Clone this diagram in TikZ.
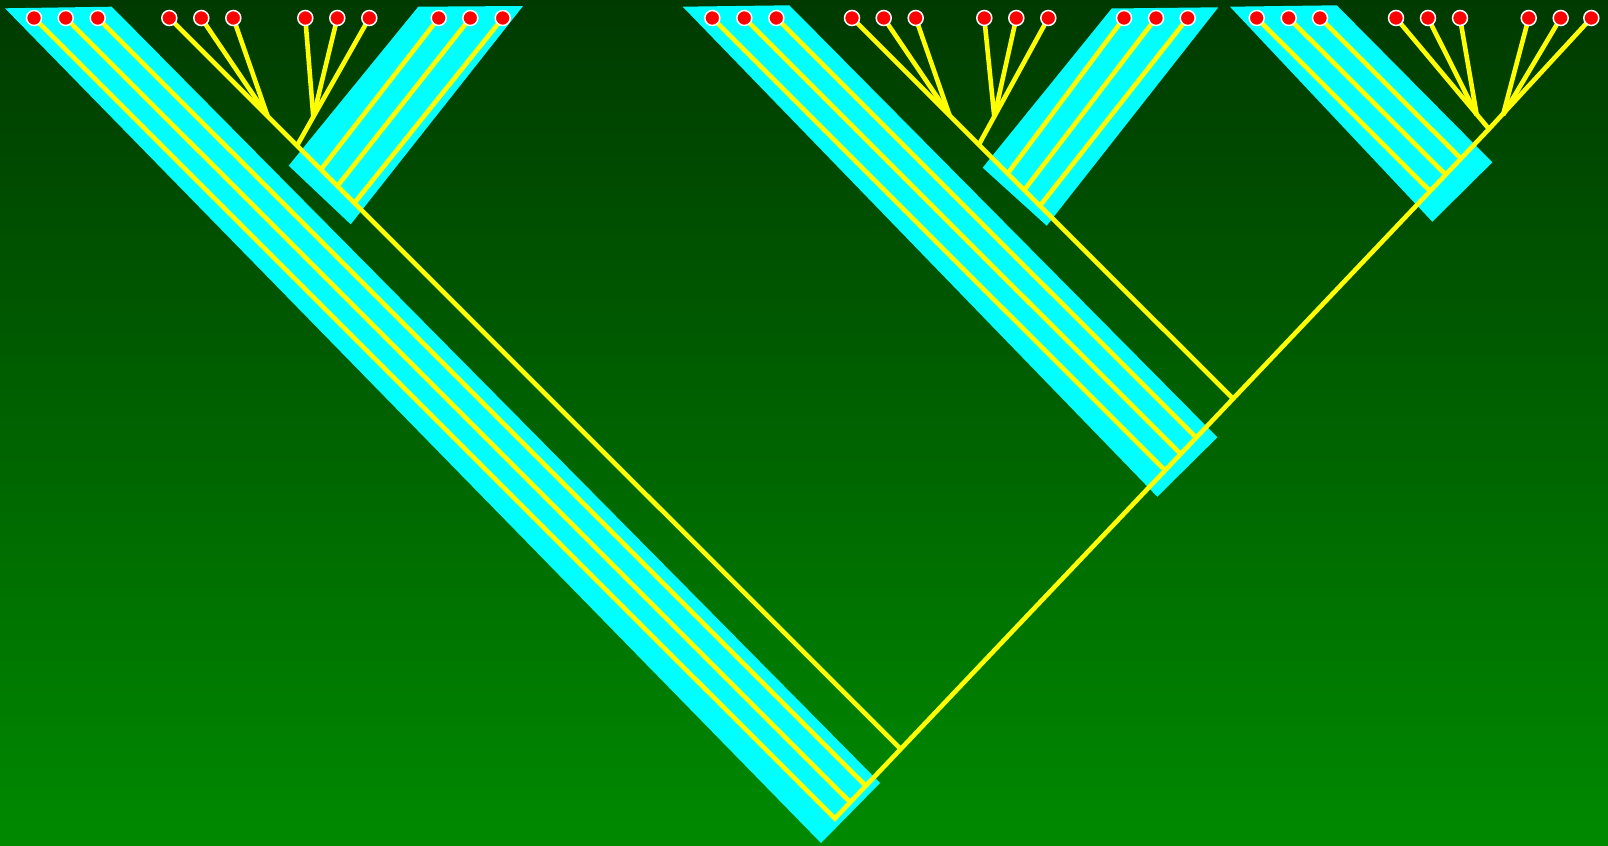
\documentclass[tikz,border=0pt]{standalone}
\definecolor{bgtop}{RGB}{0,58,0}
\definecolor{bgbot}{RGB}{0,138,0}
\definecolor{bandcyan}{RGB}{0,255,255}
\definecolor{lineyellow}{RGB}{255,255,0}
\begin{document}
\begin{tikzpicture}[x=0.5pt,y=-0.5pt]
    \tikzset{
      leaf/.style={circle,fill=red,draw=white,line width=0.75pt,inner sep=0pt,minimum size=7.5pt},
      lineage/.style={lineyellow,line width=2.3pt},
      band/.style={fill=bandcyan}
    }
    \useasboundingbox (0,0) rectangle (1608,846);
    \shade[top color=bgtop,bottom color=bgbot] (0,0) rectangle (1608,846);

    \foreach \n/\x in {a1/34,a2/65.7,a3/97.7,b1/169.3,b2/201.3,b3/233.3,
                       c1/305.3,c2/337.3,c3/369.3,d1/438.7,d2/470.3,d3/502.7,
                       e1/712.3,e2/744.3,e3/776.3,f1/852,f2/883.7,f3/915.7,
                       g1/984.3,g2/1016.3,g3/1048.3,h1/1124,h2/1156,h3/1187.7,
                       i1/1256.7,i2/1288.7,i3/1320,j1/1396,j2/1428,j3/1460,
                       k1/1528.7,k2/1560.7,k3/1591.3}
      \coordinate (\n) at (\x,18);

    \coordinate (root) at (834.8,818.5);
    \coordinate (a2e) at (850.2,802.2);
    \coordinate (a3e) at (865.8,785.8);
    \coordinate (bj) at (900.7,749.1);
    \coordinate (bn) at (267.5,115.9);
    \coordinate (cn) at (313.3,116.7);
    \coordinate (bc) at (297.1,145.5);
    \coordinate (d1e) at (321,169.4);
    \coordinate (d2e) at (337.5,185.9);
    \coordinate (d3e) at (354.5,202.9);
    \coordinate (e1e) at (1165,470.4);
    \coordinate (e2e) at (1180.6,454);
    \coordinate (e3e) at (1196.2,437.6);
    \coordinate (fj) at (1233,398.7);
    \coordinate (fn) at (949.5,115.2);
    \coordinate (gn) at (994.3,116.7);
    \coordinate (fg) at (978.9,144.6);
    \coordinate (h1e) at (1007.7,173.4);
    \coordinate (h2e) at (1024.3,190);
    \coordinate (h3e) at (1040,205.7);
    \coordinate (i1e) at (1430.1,191.1);
    \coordinate (i2e) at (1445.7,174.7);
    \coordinate (i3e) at (1460.9,158.6);
    \coordinate (jj) at (1489,129);
    \coordinate (jn) at (1476.7,115);
    \coordinate (kn) at (1503,115);

    \fill[band] (5,8.3) -- (111.7,6.7) -- (880,783) -- (821,843) -- cycle;
    \fill[band] (418.3,6.7) -- (523,6) -- (350.7,224.3) -- (288.7,165.7) -- cycle;
    \fill[band] (682.7,6.7) -- (789.3,5.3) -- (1217.3,437.3) -- (1157.3,496.7) -- cycle;
    \fill[band] (1111.7,8.5) -- (1218.3,7.3) -- (1046.7,225.7) -- (982.7,167.7) -- cycle;
    \fill[band] (1230,6.7) -- (1336.7,5.3) -- (1492.3,162.3) -- (1432.3,221.7) -- cycle;

    \draw[lineage] (a1) -- (root) -- (jj) -- (k3);
    \draw[lineage] (a2) -- (a2e);
    \draw[lineage] (a3) -- (a3e);
    \draw[lineage] (b1) -- (bj);
    \draw[lineage] (b2) -- (bn);
    \draw[lineage] (b3) -- (bn);
    \draw[lineage] (c1) -- (cn);
    \draw[lineage] (c2) -- (cn);
    \draw[lineage] (c3) -- (bc);
    \draw[lineage] (d1) -- (d1e);
    \draw[lineage] (d2) -- (d2e);
    \draw[lineage] (d3) -- (d3e);
    \draw[lineage] (e1) -- (e1e);
    \draw[lineage] (e2) -- (e2e);
    \draw[lineage] (e3) -- (e3e);
    \draw[lineage] (f1) -- (fj);
    \draw[lineage] (f2) -- (fn);
    \draw[lineage] (f3) -- (fn);
    \draw[lineage] (g1) -- (gn);
    \draw[lineage] (g2) -- (gn);
    \draw[lineage] (g3) -- (fg);
    \draw[lineage] (h1) -- (h1e);
    \draw[lineage] (h2) -- (h2e);
    \draw[lineage] (h3) -- (h3e);
    \draw[lineage] (i1) -- (i1e);
    \draw[lineage] (i2) -- (i2e);
    \draw[lineage] (i3) -- (i3e);
    \draw[lineage] (j1) -- (jj);
    \draw[lineage] (j2) -- (jn);
    \draw[lineage] (j3) -- (jn);
    \draw[lineage] (k1) -- (kn);
    \draw[lineage] (k2) -- (kn);

    \foreach \n in {a1,a2,a3,b1,b2,b3,c1,c2,c3,d1,d2,d3,e1,e2,e3,f1,f2,f3,
                    g1,g2,g3,h1,h2,h3,i1,i2,i3,j1,j2,j3,k1,k2,k3}
      \node[leaf] (\n dot) at (\n) {};
  \end{tikzpicture}
\end{document}
